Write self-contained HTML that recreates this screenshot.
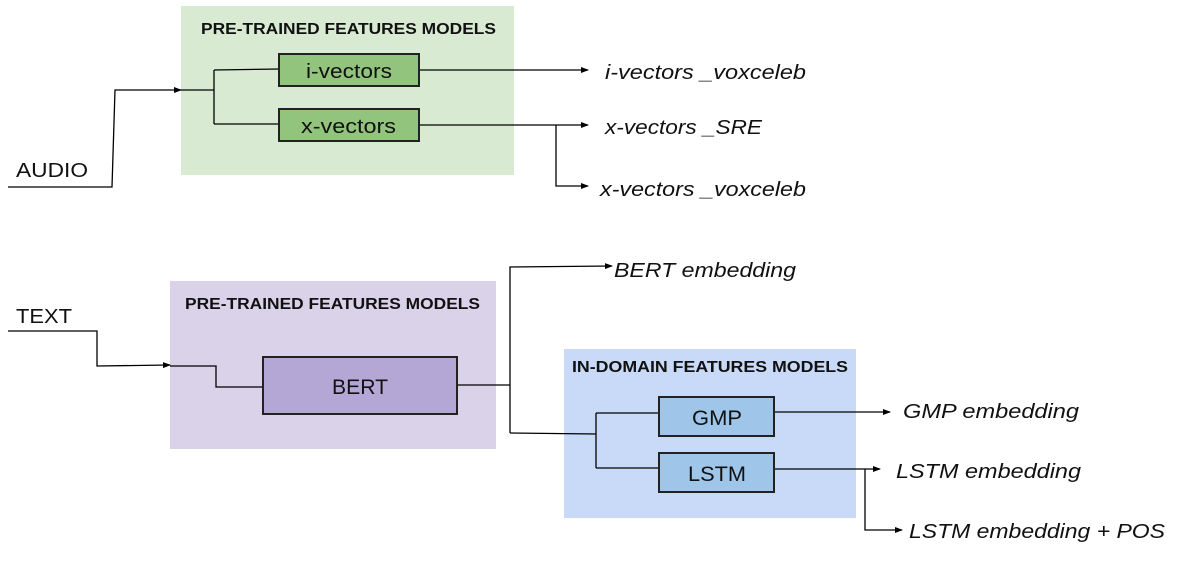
<!DOCTYPE html>
<html><head><meta charset="utf-8"><style>
html,body{margin:0;padding:0;background:#fff;width:1188px;height:564px;overflow:hidden}
svg{display:block}
.t{font-family:"Liberation Sans",sans-serif}
</style></head><body>
<svg width="1188" height="564" viewBox="0 0 1188 564" xmlns="http://www.w3.org/2000/svg">
<defs><marker id="a" markerWidth="8" markerHeight="6" refX="7" refY="3" orient="auto" markerUnits="userSpaceOnUse"><path d="M0,0 L8,3 L0,6 z" fill="#000"/></marker></defs>
<g fill="none" stroke="#000" stroke-width="1.3">
<rect x="181" y="6" width="333" height="169" fill="#d9ead3" stroke="none"/>
<rect x="170" y="281" width="326" height="168" fill="#d9d2e9" stroke="none"/>
<rect x="564" y="349" width="292" height="169" fill="#c9daf8" stroke="none"/>
<path d="M8,187 L112,187 L115,90 L181,90" marker-end="url(#a)"/>
<path d="M181,90 L214,90 M214,70 L214,124 M214,70 L279,69 M214,124 L279,124"/>
<path d="M419,70 L588,70" marker-end="url(#a)"/>
<path d="M419,125 L588,125" marker-end="url(#a)"/>
<path d="M556,125 L556,186 L588,186" marker-end="url(#a)"/>
<path d="M8,331 L97,331 L97,366 L170,365" marker-end="url(#a)"/>
<path d="M170,366 L216,366 L216,387 L263,387"/>
<path d="M457,385 L510,385 M510,433 L510,267 L612,266" marker-end="url(#a)"/>
<path d="M510,433 L596,434 M596,413 L596,468 M596,413 L659,413 M596,468 L659,468"/>
<path d="M774,412 L890,412" marker-end="url(#a)"/>
<path d="M774,469 L880,469" marker-end="url(#a)"/>
<path d="M865,469 L865,530 L902,530" marker-end="url(#a)"/>
</g>
<g stroke="#222" stroke-width="2">
<rect x="279" y="54" width="140" height="32" fill="#93c47d"/>
<rect x="279" y="109" width="140" height="32" fill="#93c47d"/>
<rect x="263" y="357" width="194" height="57" fill="#b4a7d6"/>
<rect x="659" y="397" width="115" height="39" fill="#9fc5e8"/>
<rect x="659" y="453" width="115" height="39" fill="#9fc5e8"/>
</g>
<g class="t" fill="#111" lengthAdjust="spacingAndGlyphs">
<text x="201" y="34" font-size="16" font-weight="bold" textLength="295" lengthAdjust="spacingAndGlyphs">PRE-TRAINED FEATURES MODELS</text>
<text x="185" y="309" font-size="16" font-weight="bold" textLength="295" lengthAdjust="spacingAndGlyphs">PRE-TRAINED FEATURES MODELS</text>
<text x="572" y="372" font-size="16" font-weight="bold" textLength="276" lengthAdjust="spacingAndGlyphs">IN-DOMAIN FEATURES MODELS</text>
<text x="306" y="78" font-size="20" textLength="86" lengthAdjust="spacingAndGlyphs">i-vectors</text>
<text x="301" y="133" font-size="20" textLength="95" lengthAdjust="spacingAndGlyphs">x-vectors</text>
<text x="332" y="394" font-size="21" textLength="56" lengthAdjust="spacingAndGlyphs">BERT</text>
<text x="692" y="425" font-size="21" textLength="50" lengthAdjust="spacingAndGlyphs">GMP</text>
<text x="688" y="481" font-size="21" textLength="58" lengthAdjust="spacingAndGlyphs">LSTM</text>
<text x="16" y="177" font-size="20" textLength="72" lengthAdjust="spacingAndGlyphs">AUDIO</text>
<text x="16" y="323" font-size="20" textLength="56" lengthAdjust="spacingAndGlyphs">TEXT</text>
<g font-style="italic" font-size="20">
<text x="605" y="79" textLength="201" lengthAdjust="spacingAndGlyphs">i-vectors _voxceleb</text>
<text x="605" y="134" textLength="157" lengthAdjust="spacingAndGlyphs">x-vectors _SRE</text>
<text x="600" y="196" textLength="206" lengthAdjust="spacingAndGlyphs">x-vectors _voxceleb</text>
<text x="614" y="277" textLength="182" lengthAdjust="spacingAndGlyphs">BERT embedding</text>
<text x="903" y="418" textLength="176" lengthAdjust="spacingAndGlyphs">GMP embedding</text>
<text x="896" y="478" textLength="185" lengthAdjust="spacingAndGlyphs">LSTM embedding</text>
<text x="909" y="538" textLength="256" lengthAdjust="spacingAndGlyphs">LSTM embedding + POS</text>
</g>
</g>
</svg>
</body></html>
